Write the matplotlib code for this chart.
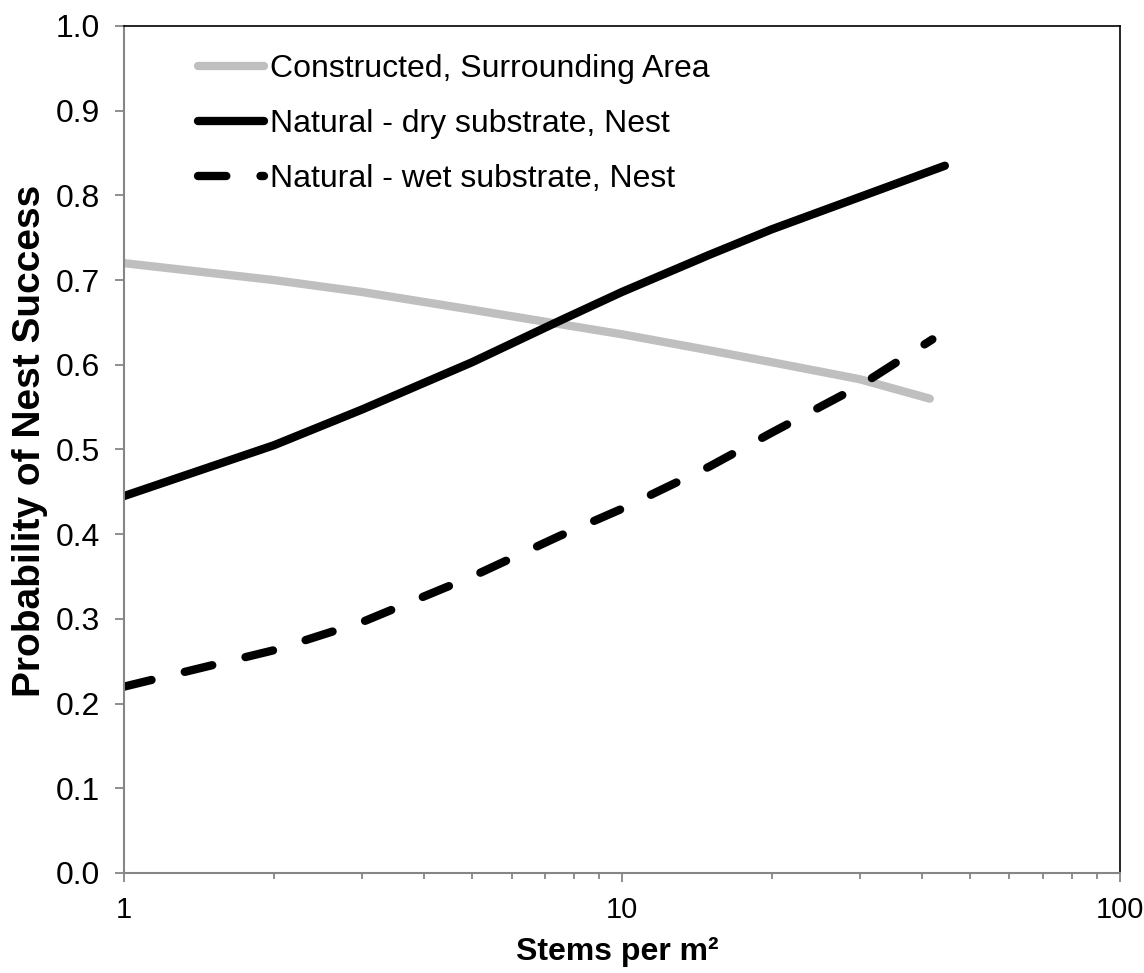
import matplotlib.pyplot as plt
from matplotlib.ticker import FixedLocator, NullFormatter, FormatStrFormatter

plt.rcParams['font.family'] = ['Liberation Sans', 'DejaVu Sans']

# values
x_con = [1, 2, 3, 5, 7.5, 10, 15, 20, 30, 41.5]
y_con = [0.720, 0.700, 0.686, 0.665, 0.648, 0.636, 0.617, 0.603, 0.583, 0.560]

x_dry = [1, 2, 3, 5, 7.5, 10, 15, 20, 30, 44.5]
y_dry = [0.445, 0.505, 0.547, 0.603, 0.652, 0.686, 0.730, 0.760, 0.798, 0.835]

x_wet = [1, 2, 3, 5, 7.5, 10, 15, 20, 30, 42]
y_wet = [0.220, 0.263, 0.296, 0.350, 0.398, 0.430, 0.480, 0.520, 0.575, 0.630]

labels = ['Constructed, Surrounding Area', 'Natural - dry substrate, Nest',
          'Natural - wet substrate, Nest']

fs = 23
grey = '#868686'

fig = plt.figure(figsize=(11.44, 9.73), dpi=100)
ax = fig.add_axes([0.1084, 0.1028, 0.8706, 0.8705])

ax.plot(x_con, y_con, color='#bfbfbf', lw=6, solid_capstyle='round', label=labels[0])
ax.plot(x_dry, y_dry, color='black', lw=6, solid_capstyle='round', label=labels[1])
ax.plot(x_wet, y_wet, color='black', lw=6, dashes=(3.4, 4.1), dash_capstyle='round',
        label=labels[2])

ax.set_xscale('log')
ax.set_xlim(1, 100)
ax.set_ylim(0, 1)
ax.set_yticks([i / 10 for i in range(11)])
ax.yaxis.set_major_formatter(FormatStrFormatter('%.1f'))
ax.xaxis.set_major_locator(FixedLocator([1, 10, 100]))
ax.set_xticklabels(['1', '10', '100'])
ax.xaxis.set_minor_locator(FixedLocator([m * d for d in (1, 10) for m in range(2, 10)]))
ax.xaxis.set_minor_formatter(NullFormatter())

ax.tick_params(axis='both', which='major', labelsize=fs, color=grey, length=6.5,
               width=1.3, direction='out')
ax.tick_params(axis='x', which='major', labelsize=21, pad=10)
ax.tick_params(axis='x', which='minor', color=grey, length=4.5, width=1.3)
ax.tick_params(axis='y', pad=11)

for s in ('left', 'bottom'):
    ax.spines[s].set_color(grey)
    ax.spines[s].set_linewidth(1.5)
for s in ('top', 'right'):
    ax.spines[s].set_color('black')
    ax.spines[s].set_linewidth(1.2)

ax.set_xlabel('Stems per m²', fontsize=fs, fontweight='bold')
ax.xaxis.set_label_coords(0.4955, -0.075)
ax.set_ylabel('Probability of Nest Success', fontsize=28, fontweight='bold')
ax.yaxis.set_label_coords(-0.0763, 0.51)

ax.legend(loc='upper left', bbox_to_anchor=(0.0743, 0.967), frameon=False, fontsize=fs,
          borderaxespad=0, borderpad=0, handlelength=2.07, handletextpad=0.19,
          labelspacing=0.78)

fig.savefig('out.png', dpi=100)
